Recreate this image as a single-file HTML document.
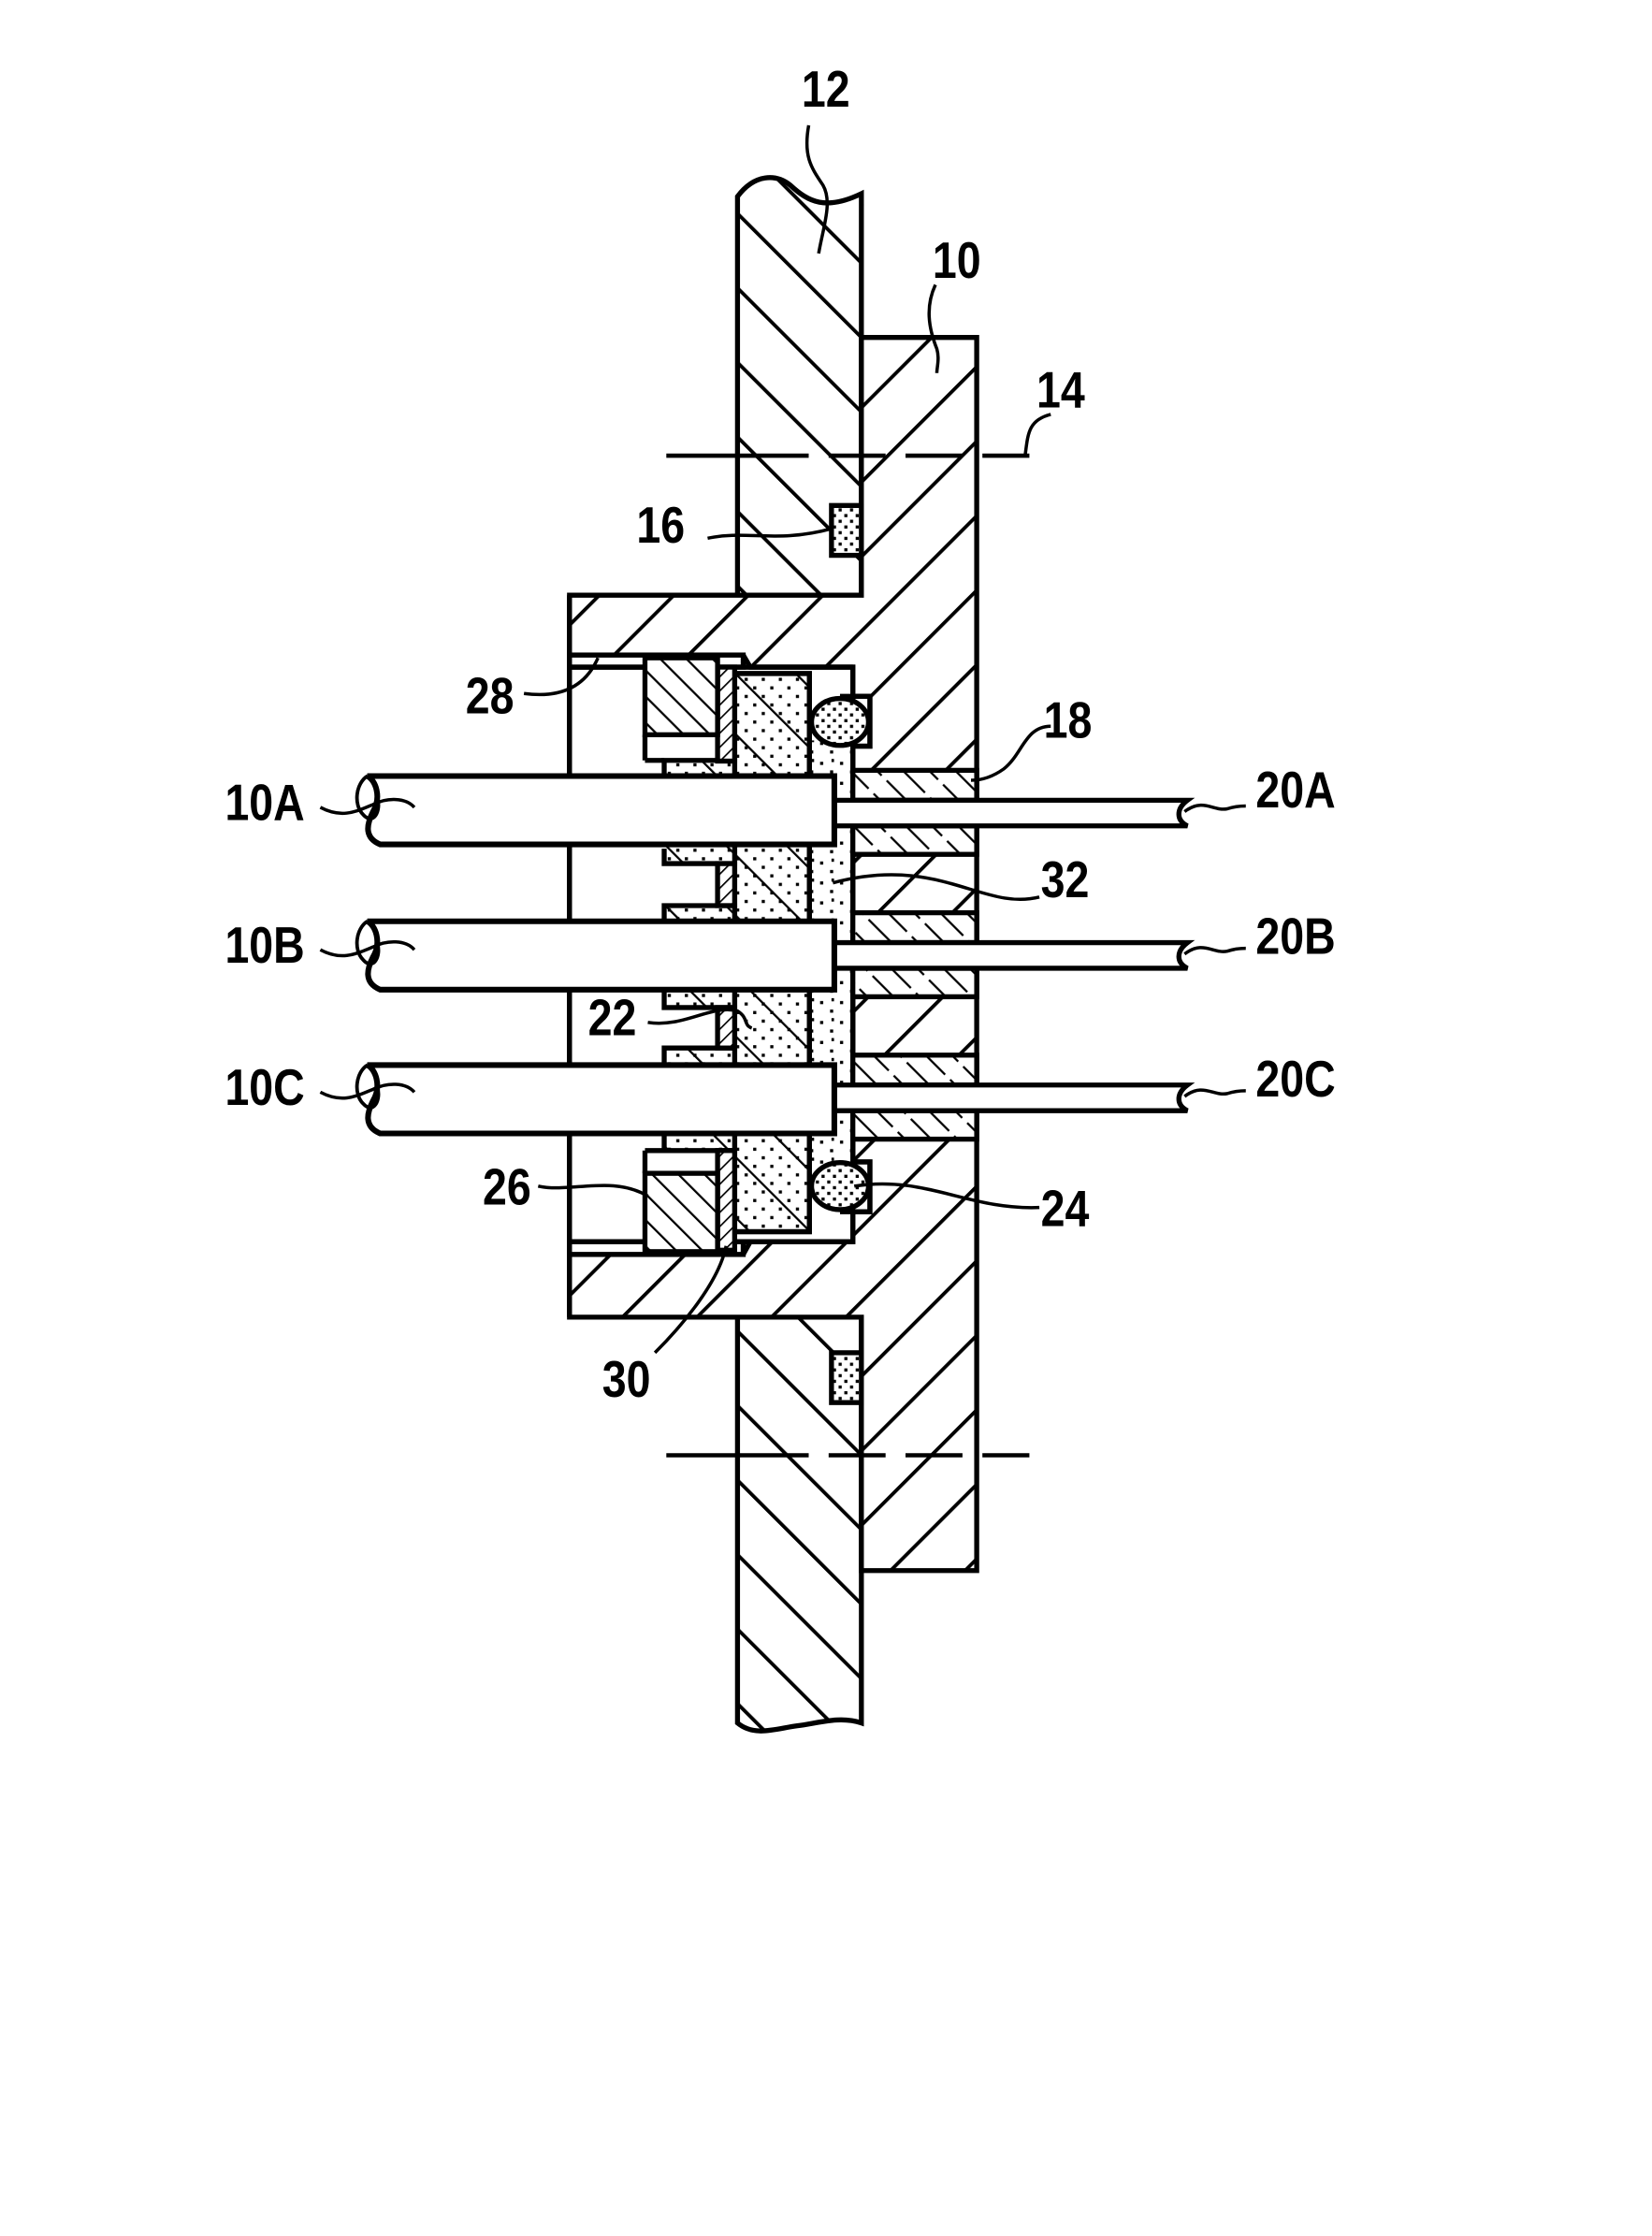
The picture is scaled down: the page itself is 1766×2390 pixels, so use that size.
<!DOCTYPE html>
<html><head><meta charset="utf-8"><style>
html,body{margin:0;padding:0;background:#fff;}
svg{display:block;}
text{font-family:"Liberation Sans",Arial,sans-serif;font-weight:bold;font-size:36px;fill:#000;}
</style></head><body>
<svg width="1766" height="2390" viewBox="0 0 1160.3 1570.3" preserveAspectRatio="none" xmlns="http://www.w3.org/2000/svg">
<defs>
<pattern id="hA" patternUnits="userSpaceOnUse" width="37" height="37" patternTransform="rotate(-45)">
<rect width="37" height="37" fill="#fff"/><line x1="0" y1="0" x2="0" y2="37" stroke="#000" stroke-width="5"/></pattern>
<pattern id="hB" patternUnits="userSpaceOnUse" width="37" height="37" patternTransform="rotate(45)">
<rect width="37" height="37" fill="#fff"/><line x1="0" y1="0" x2="0" y2="37" stroke="#000" stroke-width="5"/></pattern>
<pattern id="h26" patternUnits="userSpaceOnUse" width="13" height="13" patternTransform="rotate(-45)">
<rect width="13" height="13" fill="#fff"/><line x1="0" y1="0" x2="0" y2="13" stroke="#000" stroke-width="3"/></pattern>
<pattern id="h22" patternUnits="userSpaceOnUse" width="7" height="7" patternTransform="rotate(45)">
<rect width="7" height="7" fill="#fff"/><line x1="0" y1="0" x2="0" y2="7" stroke="#000" stroke-width="2.2"/></pattern>
<pattern id="h18" patternUnits="userSpaceOnUse" width="13" height="30" patternTransform="rotate(-45)">
<rect width="13" height="30" fill="#fff"/><line x1="0" y1="0" x2="0" y2="13" stroke="#000" stroke-width="3"/><line x1="0" y1="18" x2="0" y2="30" stroke="#000" stroke-width="3"/></pattern>
<pattern id="dots" patternUnits="userSpaceOnUse" width="12" height="12">
<rect width="12" height="12" fill="#fff"/><rect x="1" y="2" width="2.2" height="2.2" fill="#000"/><rect x="7" y="8" width="2.2" height="2.2" fill="#000"/></pattern>
<pattern id="dotsD" patternUnits="userSpaceOnUse" width="8" height="8">
<rect width="8" height="8" fill="#fff"/><rect x="1" y="1" width="2.2" height="2.2" fill="#000"/><rect x="5" y="5" width="2.2" height="2.2" fill="#000"/></pattern>
<pattern id="dotsS" patternUnits="userSpaceOnUse" width="14" height="14">
<rect width="14" height="14" fill="#fff"/><rect x="2" y="3" width="2.2" height="2.2" fill="#000"/><rect x="9" y="9" width="2.2" height="2.2" fill="#000"/><rect x="10" y="1" width="1.8" height="2.2" fill="#000"/></pattern>
<pattern id="ins" patternUnits="userSpaceOnUse" width="30" height="30" patternTransform="rotate(-45)">
<rect width="30" height="30" fill="none"/><line x1="0" y1="0" x2="0" y2="30" stroke="#000" stroke-width="3"/></pattern>
</defs>

<g stroke="#000" stroke-width="3.5" fill="none">
<path d="M518,138 C530,122 545,122 555,130 C568,142 580,148 605,136 V418 H518 Z" fill="url(#hA)"/>
<path d="M518,925 H605 V1210 C590,1205 575,1210 560,1212 C545,1214 530,1220 518,1210 Z" fill="url(#hA)"/>
<path d="M605,237 H686 V1103 H605 V925 H400 V418 H605 Z" fill="url(#hB)"/>
<rect x="400" y="468.5" width="199" height="403.5" fill="#fff"/>
<rect x="400" y="460" width="122" height="8.5" fill="#fff"/>
<rect x="400" y="872" width="122" height="9" fill="#fff"/>
<path d="M400,460 H522 L527,468.5 H599 V872 H527 L522,881 H400"/>
<line x1="400" y1="468.5" x2="599" y2="468.5"/>
<line x1="400" y1="872" x2="599" y2="872"/>
<line x1="400" y1="418" x2="400" y2="925"/>
<rect x="599" y="489" width="12" height="35" fill="#fff"/>
<rect x="599" y="816" width="12" height="35" fill="#fff"/>
<path d="M590,489 H611 V524 H590"/>
<path d="M590,816 H611 V851 H590"/>
<rect x="568.5" y="520" width="30.5" height="300" fill="url(#dotsS)" stroke="none"/>
<line x1="599" y1="520" x2="599" y2="820"/>
<rect x="516" y="473" width="52.5" height="392" fill="url(#dots)"/>
<rect x="516" y="473" width="52.5" height="392" fill="url(#ins)" stroke="#000"/>
<g fill="url(#dots)">
<path d="M466.5,545 V534 H516 V606.5 H466.5 V596"/>
<path d="M466.5,647 V636 H516 V707.6 H466.5 V695"/>
<path d="M466.5,748 V736 H516 V808 H466.5 V796"/>
</g>
<g fill="url(#ins)" stroke="none">
<rect x="466.5" y="534" width="49.5" height="72"/>
<rect x="466.5" y="636" width="49.5" height="72"/>
<rect x="466.5" y="736" width="49.5" height="72"/>
</g>
<rect x="504" y="468.5" width="12" height="66" fill="url(#h22)"/>
<rect x="504" y="606.5" width="12" height="29.5" fill="url(#h22)"/>
<rect x="504" y="707.6" width="12" height="28.4" fill="url(#h22)"/>
<rect x="504" y="808" width="12" height="70" fill="url(#h22)"/>
<rect x="453" y="462" width="51" height="54" fill="url(#h26)"/>
<rect x="453" y="824" width="51" height="55" fill="url(#h26)"/>
<line x1="453" y1="516" x2="453" y2="534"/>
<line x1="453" y1="808" x2="453" y2="824"/>
<line x1="453" y1="534" x2="466.5" y2="534"/>
<line x1="453" y1="808" x2="466.5" y2="808"/>
<ellipse cx="590" cy="507" rx="20" ry="16.5" fill="url(#dotsD)" stroke-width="3.5"/>
<ellipse cx="590" cy="833" rx="20" ry="16.5" fill="url(#dotsD)" stroke-width="3.5"/>
<rect x="584" y="355" width="21" height="35" fill="url(#dotsD)"/>
<rect x="584" y="950" width="21" height="35" fill="url(#dotsD)"/>
<g fill="url(#h18)">
<rect x="599" y="541" width="87" height="21"/>
<rect x="599" y="580" width="87" height="20"/>
<rect x="599" y="641" width="87" height="21"/>
<rect x="599" y="680" width="87" height="20"/>
<rect x="599" y="741" width="87" height="21"/>
<rect x="599" y="780" width="87" height="20"/>
</g>
<g fill="#fff" stroke-width="3.5">
<path d="M586,562 H834 C826,568 826,576 834,580 H586 Z"/>
<path d="M586,662 H834 C826,668 826,676 834,680 H586 Z"/>
<path d="M586,762 H834 C826,768 826,776 834,780 H586 Z"/>
</g>
<g fill="#fff" stroke-width="4">
<path d="M586,545 V593 H267 C255,588 258,578 262,570 C268,560 264,548 258,545 Z"/>
<path d="M586,647 V695 H267 C255,690 258,680 262,672 C268,662 264,650 258,647 Z"/>
<path d="M586,748 V796 H267 C255,791 258,781 262,773 C268,763 264,751 258,748 Z"/>
</g>
<g stroke-width="2.5">
<path d="M258,545 C250,550 248,565 255,572 C262,580 268,570 265,560"/>
<path d="M258,647 C250,652 248,667 255,674 C262,682 268,672 265,662"/>
<path d="M258,748 C250,753 248,768 255,775 C262,783 268,773 265,763"/>
</g>
<line x1="468" y1="320" x2="723" y2="320" stroke-width="3" stroke-dasharray="100,14,40,14,40,14,40,14,40"/>
<line x1="468" y1="1022" x2="723" y2="1022" stroke-width="3" stroke-dasharray="100,14,40,14,40,14,40,14,40"/>
<g stroke-width="2.3">
<path d="M568,88 C564,110 570,118 578,130 C585,142 578,160 575,178"/>
<path d="M657,200 C650,215 652,230 658,245 C660,252 658,258 658,262"/>
<path d="M738,291 C722,295 722,305 720,320"/>
<path d="M497,378 C525,372 545,382 585,371"/>
<path d="M738,510 C720,510 718,530 705,540 C698,545 690,548 682,548"/>
<path d="M368,487 C390,490 410,485 420,462"/>
<path d="M225,567 C240,575 250,570 262,565 C272,560 285,560 291,567"/>
<path d="M225,667 C240,675 250,670 262,665 C272,660 285,660 291,667"/>
<path d="M225,767 C240,775 250,770 262,765 C272,760 285,760 291,767"/>
<path d="M832,570 C845,560 852,570 862,568 C868,566 872,566 875,566"/>
<path d="M832,670 C845,660 852,670 862,668 C868,666 872,666 875,666"/>
<path d="M832,770 C845,760 852,770 862,768 C868,766 872,766 875,766"/>
<path d="M730,630 C690,640 660,600 585,620"/>
<path d="M455,718 C480,722 500,705 518,710 C526,715 522,720 528,722"/>
<path d="M378,833 C400,838 430,825 455,840"/>
<path d="M730,848 C680,850 650,825 600,833"/>
<path d="M460,950 C480,930 505,900 510,875"/>
</g>
</g>
<g>
<text x="563" y="75" textLength="34" lengthAdjust="spacingAndGlyphs">12</text>
<text x="655" y="195" textLength="34" lengthAdjust="spacingAndGlyphs">10</text>
<text x="728" y="286" textLength="34" lengthAdjust="spacingAndGlyphs">14</text>
<text x="447" y="381" textLength="34" lengthAdjust="spacingAndGlyphs">16</text>
<text x="733" y="518" textLength="34" lengthAdjust="spacingAndGlyphs">18</text>
<text x="327" y="501" textLength="34" lengthAdjust="spacingAndGlyphs">28</text>
<text x="158" y="576" textLength="56" lengthAdjust="spacingAndGlyphs">10A</text>
<text x="882" y="567" textLength="56" lengthAdjust="spacingAndGlyphs">20A</text>
<text x="731" y="630" textLength="34" lengthAdjust="spacingAndGlyphs">32</text>
<text x="158" y="676" textLength="56" lengthAdjust="spacingAndGlyphs">10B</text>
<text x="882" y="670" textLength="56" lengthAdjust="spacingAndGlyphs">20B</text>
<text x="413" y="727" textLength="34" lengthAdjust="spacingAndGlyphs">22</text>
<text x="158" y="776" textLength="56" lengthAdjust="spacingAndGlyphs">10C</text>
<text x="882" y="770" textLength="56" lengthAdjust="spacingAndGlyphs">20C</text>
<text x="339" y="846" textLength="34" lengthAdjust="spacingAndGlyphs">26</text>
<text x="731" y="861" textLength="34" lengthAdjust="spacingAndGlyphs">24</text>
<text x="423" y="981" textLength="34" lengthAdjust="spacingAndGlyphs">30</text>
</g>
</svg>
</body></html>
